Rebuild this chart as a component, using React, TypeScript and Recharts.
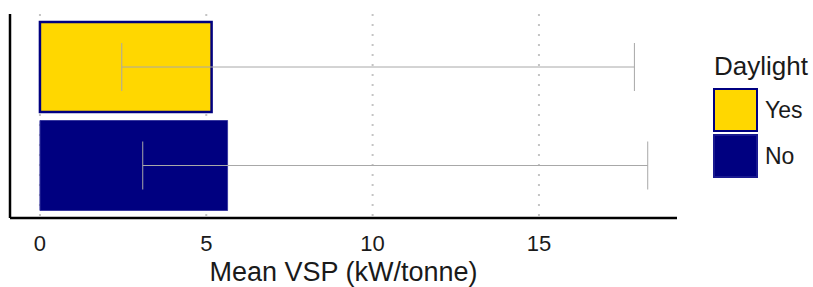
import React from "react";
import { BarChart, Bar, XAxis, YAxis, CartesianGrid, ErrorBar, Cell } from "recharts";

const categories = ["Yes", "No"];
const meanVsp = [5.16, 5.64];
const lowerBound = [2.46, 3.09];
const upperBound = [17.87, 18.27];
const xTicks = [0, 5, 10, 15];
const fills = ["#FFD700", "#000080"];
const strokes = ["#000080", "#3a3aa0"];

const data = categories.map((c, i) => ({
  daylight: c,
  vsp: meanVsp[i],
  err: [meanVsp[i] - lowerBound[i], upperBound[i] - meanVsp[i]],
}));

const FONT = "'Liberation Sans', Arial, sans-serif";

export default function App() {
  return (
    <div style={{ position: "absolute", left: 0, top: 0, width: 813, height: 287, background: "#fff", fontFamily: FONT }}>
      <BarChart
        width={813}
        height={287}
        data={data}
        layout="vertical"
        margin={{ top: 14, right: 136, bottom: 0, left: 8 }}
        barSize={90}
      >
        <CartesianGrid
          horizontal={false}
          stroke="#c4c4c4"
          strokeWidth={2}
          strokeDasharray="2 8"
          syncWithTicks
        />
        <XAxis
          type="number"
          dataKey="vsp"
          domain={[-0.9, 19.15]}
          allowDataOverflow
          ticks={xTicks}
          tickLine={false}
          tickMargin={11}
          axisLine={{ stroke: "#000", strokeWidth: 2.5 }}
          tick={{ fill: "#1a1a1a", fontSize: 22, fontFamily: FONT }}
          height={69}
          label={{ value: "Mean VSP (kW/tonne)", position: "insideBottom", offset: 6, fill: "#1a1a1a", fontSize: 27, fontFamily: FONT }}
        />
        <YAxis
          type="category"
          dataKey="daylight"
          width={2}
          tick={false}
          tickLine={false}
          padding={{ top: 4, bottom: 3 }}
          axisLine={{ stroke: "#000", strokeWidth: 2.5 }}
        />
        <Bar dataKey="vsp" isAnimationActive={false} strokeWidth={2}>
          {data.map((d, i) => (
            <Cell key={d.daylight} fill={fills[i]} stroke={strokes[i]} strokeWidth={i === 0 ? 2.5 : 1} />
          ))}
          <ErrorBar dataKey="err" direction="x" width={24} stroke="#a8a8a8" strokeWidth={1} isAnimationActive={false} />
        </Bar>
      </BarChart>
      <div style={{ position: "absolute", left: 713, top: 50, fontFamily: FONT, color: "#1a1a1a" }}>
        <div style={{ fontSize: 26, lineHeight: "32px", marginLeft: 1 }}>Daylight</div>
        {categories.map((c, i) => (
          <div key={c} style={{ display: "flex", alignItems: "center", height: 46, marginTop: i === 0 ? 5 : 0 }}>
            <div
              style={{
                width: 45,
                height: 44,
                boxSizing: "border-box",
                background: fills[i],
                border: `2px solid ${i === 0 ? "#000080" : "#1a1a90"}`,
              }}
            />
            <span style={{ fontSize: 23, marginLeft: 7 }}>{c}</span>
          </div>
        ))}
      </div>
    </div>
  );
}
